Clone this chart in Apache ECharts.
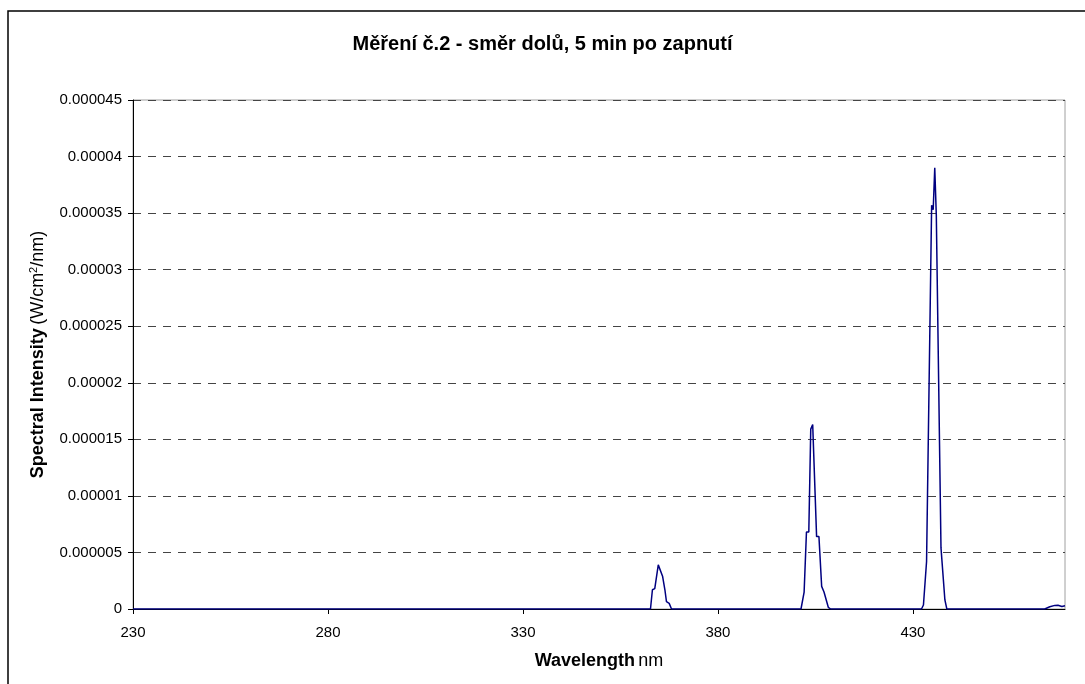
<!DOCTYPE html>
<html>
<head>
<meta charset="utf-8">
<script src="https://cdn.jsdelivr.net/npm/echarts@6/dist/echarts.min.js"></script>
<style>
  html, body { margin: 0; padding: 0; background: #fff; }
  #chart { width: 1085px; height: 684px; }
</style>
</head>
<body>
<div id="chart"></div>
<script>
// vlnová délka (nm) a spektrální intenzita (W/cm2/nm)
var wavelengths = [230, 362.7, 363.2, 363.8, 364.7, 365.1, 365.8, 366.4, 366.8, 367.5, 368.1,
  401.3, 402.1, 402.7, 403.3, 403.8, 404.3, 405.3, 405.9, 406.6, 407.2, 408.3, 408.9,
  432.2, 432.7, 433.5, 434.8, 435.2, 435.6, 436.0, 437.2, 437.6, 438.2, 438.7,
  463.8, 465.1, 466.4, 467.2, 468.2, 469.0];
var intensity = [0, 0, 1.7e-6, 1.8e-6, 3.9e-6, 3.8e-6, 2.9e-6, 1.7e-6, 0.65e-6, 0.5e-6, 0,
  0, 1.5e-6, 6.8e-6, 6.8e-6, 15.9e-6, 16.3e-6, 6.4e-6, 6.4e-6, 2.0e-6, 1.5e-6, 0.15e-6, 0,
  0, 0.35e-6, 4.2e-6, 35.7e-6, 35.3e-6, 39.0e-6, 34.8e-6, 5.4e-6, 5.3e-6, 0.8e-6, 0,
  0, 0.2e-6, 0.32e-6, 0.33e-6, 0.22e-6, 0.28e-6];

var chartTitle = 'Měření č.2 - směr dolů, 5 min po zapnutí';
var font = 'Liberation Sans';

var myChart = echarts.init(document.getElementById('chart'));
myChart.setOption({
  animation: false,
  backgroundColor: '#fff',
  textStyle: { fontFamily: font },
  title: {
    text: chartTitle,
    left: 'center',
    top: 29,
    textStyle: { fontFamily: font, fontSize: 20, fontWeight: 'bold', color: '#000' }
  },
  graphic: [{
    type: 'rect',
    shape: { x: 8, y: 11, width: 1100, height: 700 },
    style: { fill: 'none', stroke: '#000', lineWidth: 1.5 },
    silent: true
  }],
  grid: {
    left: 133, right: 20, top: 100, bottom: 75,
    show: true, borderColor: '#a0a0a0', borderWidth: 1
  },
  xAxis: {
    type: 'value',
    min: 230,
    max: 469,
    interval: 50,
    name: '{b|Wavelength} {n|nm}',
    nameLocation: 'middle',
    nameGap: 43,
    nameTextStyle: {
      rich: {
        b: { fontFamily: font, fontSize: 18, fontWeight: 'bold', color: '#000' },
        n: { fontFamily: font, fontSize: 18, color: '#000' }
      }
    },
    axisLine: { lineStyle: { color: '#000', width: 1 } },
    axisTick: { show: true, length: 5, lineStyle: { color: '#000' } },
    axisLabel: { showMaxLabel: false, margin: 16, fontSize: 15, color: '#000', fontFamily: font },
    splitLine: { show: false }
  },
  yAxis: {
    type: 'value',
    min: 0,
    max: 0.000045,
    interval: 0.000005,
    name: '{b|Spectral Intensity} {n|(W/cm}{s|2}{n|/nm)}',
    nameLocation: 'middle',
    nameGap: 85,
    nameTextStyle: {
      rich: {
        b: { fontFamily: font, fontSize: 18, fontWeight: 'bold', color: '#000' },
        n: { fontFamily: font, fontSize: 18, color: '#000' },
        s: { fontFamily: font, fontSize: 11, color: '#000', verticalAlign: 'top', padding: [0, 0, 9, 0] }
      }
    },
    axisLine: { show: true, lineStyle: { color: '#000', width: 1 } },
    axisTick: { show: true, length: 5, lineStyle: { color: '#000' } },
    axisLabel: {
      margin: 11, fontSize: 15, color: '#000', fontFamily: font,
      formatter: function (v) { return String(parseFloat(v.toFixed(7))); }
    },
    splitLine: { show: true, lineStyle: { color: '#444', type: [8, 7], width: 1 } }
  },
  series: [{
    type: 'line',
    data: wavelengths.map(function (w, i) { return [w, intensity[i]]; }),
    showSymbol: false,
    lineStyle: { color: '#000080', width: 1.5 },
    itemStyle: { color: '#000080' }
  }]
});
</script>
</body>
</html>
